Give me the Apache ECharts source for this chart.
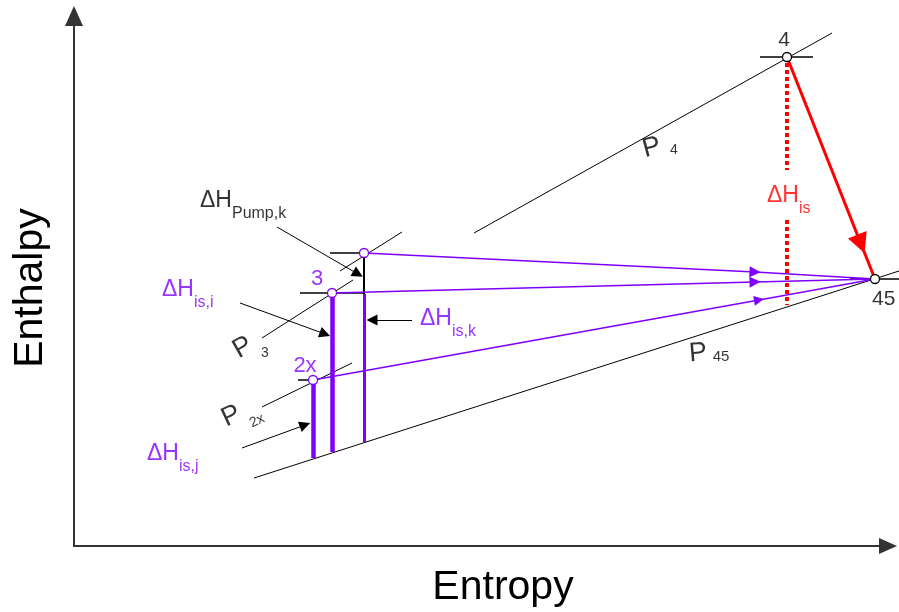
<!DOCTYPE html>
<html>
<head>
<meta charset="utf-8">
<script src="https://cdn.jsdelivr.net/npm/echarts/dist/echarts.min.js"></script>
<style>html,body{margin:0;padding:0;background:#fff}#c{width:899px;height:612px}</style>
</head>
<body>
<div id="c"></div>
<script>
// ---------- data (entropy s, enthalpy h) in arbitrary diagram units ----------
const state4      = [713, 489];
const state45     = [801, 267];
const statePumpK  = [290, 293];
const state3      = [258, 253];
const state2x     = [239, 166];

const isobarP4  = [[400, 313], [758, 513]];
const isobarP45 = [[180, 68], [825, 275]];
const isobarPk  = [[266, 275], [328, 314]];
const isobarP3  = [[188, 208], [279, 266]];
const isobarP2x = [[188, 139], [278, 183]];

const expansionArrowAt = [787, 302];
const isentropicUpper  = [[713, 483], [713, 376]];
const isentropicLower  = [[713, 326], [713, 241]];

const mixArrowK  = [681, 274];
const mixArrow3  = [681, 264];
const mixArrow2x = [685, 246];

const dropJ = [[239, 166], [239, 88]];
const dropI = [[258, 253], [258, 94]];
const dropK = [[290, 252], [290, 104]];

const pointerPump = [[203, 319], [284, 272]];
const pointerI    = [[166, 243], [251, 212]];
const pointerK    = [[338, 226], [298, 226]];
const pointerJ    = [[168, 98], [231, 121]];

const tick4   = [[686, 489], [739, 489]];
const tick45  = [[776, 267], [825, 267]];
const tickK   = [[256, 293], [290, 293]];
const tick3   = [[226, 253], [290, 253]];
const tick2x  = [[224, 166], [239, 166]];
const pumpRise = [[290, 252], [290, 293]];

// ---------- styles ----------
const FONT = '"Liberation Sans", Arial, sans-serif';
const PURPLE = '#7f00ff', RED = '#ff0000', BLACK = '#000000';

function seg(coords, color, width, opts) {
  const d = { coords: coords, lineStyle: { color: color, width: width, type: 'solid', opacity: 1 } };
  if (opts && opts.type) d.lineStyle.type = opts.type;
  if (opts && opts.arrow) { d.symbol = ['none', 'triangle']; d.symbolSize = opts.arrow; }
  return d;
}

const linesData = [
  // isobars
  seg(isobarP4, BLACK, 1), seg(isobarP45, BLACK, 1), seg(isobarPk, BLACK, 1),
  seg(isobarP3, BLACK, 1), seg(isobarP2x, BLACK, 1),
  // ticks
  seg(tick4, BLACK, 1.5), seg(tick45, BLACK, 1.5), seg(tickK, BLACK, 1.5),
  seg(tick3, BLACK, 1.5), seg(tick2x, BLACK, 1.5), seg(pumpRise, BLACK, 2),
  // mixing lines
  seg([statePumpK, mixArrowK], PURPLE, 1.6, { arrow: [13, 11] }), seg([mixArrowK, state45], PURPLE, 1.6),
  seg([state3, mixArrow3], PURPLE, 1.6, { arrow: [13, 11] }), seg([mixArrow3, state45], PURPLE, 1.6),
  seg([state2x, mixArrow2x], PURPLE, 1.6, { arrow: [10, 10] }), seg([mixArrow2x, state45], PURPLE, 1.6),
  // isentropic drops
  seg(dropJ, PURPLE, 4.5), seg(dropI, PURPLE, 4.5), seg(dropK, PURPLE, 3),
  // expansion
  seg(isentropicUpper, RED, 4, { type: [4, 3] }), seg(isentropicLower, RED, 4, { type: [4, 3] }),
  seg([state4, expansionArrowAt], RED, 3, { arrow: [14, 20] }), seg([expansionArrowAt, state45], RED, 3),
  // pointers
  seg(pointerPump, BLACK, 1, { arrow: [9, 11] }), seg(pointerI, BLACK, 1, { arrow: [9, 11] }),
  seg(pointerK, BLACK, 1, { arrow: [9, 11] }), seg(pointerJ, BLACK, 1, { arrow: [9, 11] })
];

function lab(pos, big, sub, color, o) {
  o = o || {};
  const label = {
    show: true, position: o.center ? 'inside' : 'right', distance: 0,
    rotate: o.rotate || 0,
    formatter: sub ? '{b|' + big + '}{s|' + sub + '}' : '{b|' + big + '}',
    rich: {
      b: { fontSize: o.bs || 23, fontFamily: FONT, color: color },
      s: { fontSize: o.ss || 16, fontFamily: FONT, color: color, padding: [o.pad == null ? 25 : o.pad, 0, 0, 0] }
    }
  };
  return { value: pos, label: label };
}

const labelData = [
  lab([126, 345], 'ΔH', 'Pump,k', BLACK),
  lab([88, 256], 'ΔH', 'is,i', PURPLE),
  lab([346, 227], 'ΔH', 'is,k', PURPLE),
  lab([73, 92], 'ΔH', 'is,j', PURPLE),
  lab([693, 350], 'ΔH', 'is', RED),
  lab([710, 506], '4', null, BLACK, { center: true, bs: 21 }),
  lab([798, 247], '45', null, BLACK, { bs: 21 }),
  lab([243, 267], '3', null, PURPLE, { center: true, bs: 22 }),
  lab([231, 180], '2x', null, PURPLE, { center: true, bs: 22 }),
  // isobar names: rotated "P" plus its index
  lab([569, 396], 'P', null, BLACK, { bs: 27, rotate: 15 }),
  lab([600, 396], '4', null, BLACK, { center: true, bs: 14 }),
  lab([615, 192], 'P', null, BLACK, { bs: 27, rotate: 5 }),
  lab([647, 189], '45', null, BLACK, { center: true, bs: 15 }),
  lab([161, 194], 'P', null, BLACK, { bs: 27, rotate: 30 }),
  lab([191, 193], '3', null, BLACK, { center: true, bs: 14 }),
  lab([149, 126], 'P', null, BLACK, { bs: 27, rotate: 25 }),
  lab([183, 125], '2x', null, BLACK, { center: true, bs: 14, rotate: 25 })
];

const chart = echarts.init(document.getElementById('c'), null, { renderer: 'canvas' });
chart.setOption({
  animation: false,
  backgroundColor: '#ffffff',
  grid: { left: 74, right: 11, top: 16, bottom: 66, containLabel: false, outerBoundsMode: 'none' },
  xAxis: {
    type: 'value', min: 0, max: 814,
    name: 'Entropy', nameLocation: 'middle', nameGap: 21,
    nameTextStyle: { fontSize: 41, fontFamily: FONT, color: BLACK, padding: [0, 0, 0, 44] },
    axisLine: { show: true, onZero: false, symbol: ['none', 'triangle'], symbolSize: [16, 18],
      lineStyle: { color: '#333333', width: 2 } },
    axisTick: { show: false }, axisLabel: { show: false }, splitLine: { show: false }
  },
  yAxis: {
    type: 'value', min: 0, max: 530,
    name: 'Enthalpy', nameLocation: 'middle', nameGap: 23,
    nameTextStyle: { fontSize: 41, fontFamily: FONT, color: BLACK, padding: [0, 14, 0, 0] },
    axisLine: { show: true, onZero: false, symbol: ['none', 'triangle'], symbolSize: [18, 20],
      lineStyle: { color: '#333333', width: 2 } },
    axisTick: { show: false }, axisLabel: { show: false }, splitLine: { show: false }
  },
  series: [
    {
      type: 'lines', coordinateSystem: 'cartesian2d', clip: false, silent: true,
      symbol: ['none', 'none'], data: linesData, z: 2
    },
    {
      type: 'scatter', clip: false, silent: true, symbol: 'circle', symbolSize: 9, z: 5,
      itemStyle: { color: '#ffffff', borderColor: PURPLE, borderWidth: 1.3, opacity: 1 },
      data: [statePumpK, state3, state2x]
    },
    {
      type: 'scatter', clip: false, silent: true, symbol: 'circle', symbolSize: 9, z: 5,
      itemStyle: { color: '#ffffff', borderColor: BLACK, borderWidth: 1.3, opacity: 1 },
      data: [state4, state45]
    },
    {
      type: 'scatter', clip: false, silent: true, symbol: 'circle', symbolSize: 0, z: 6,
      itemStyle: { color: 'rgba(0,0,0,0)' },
      data: labelData
    }
  ]
});
</script>
</body>
</html>
